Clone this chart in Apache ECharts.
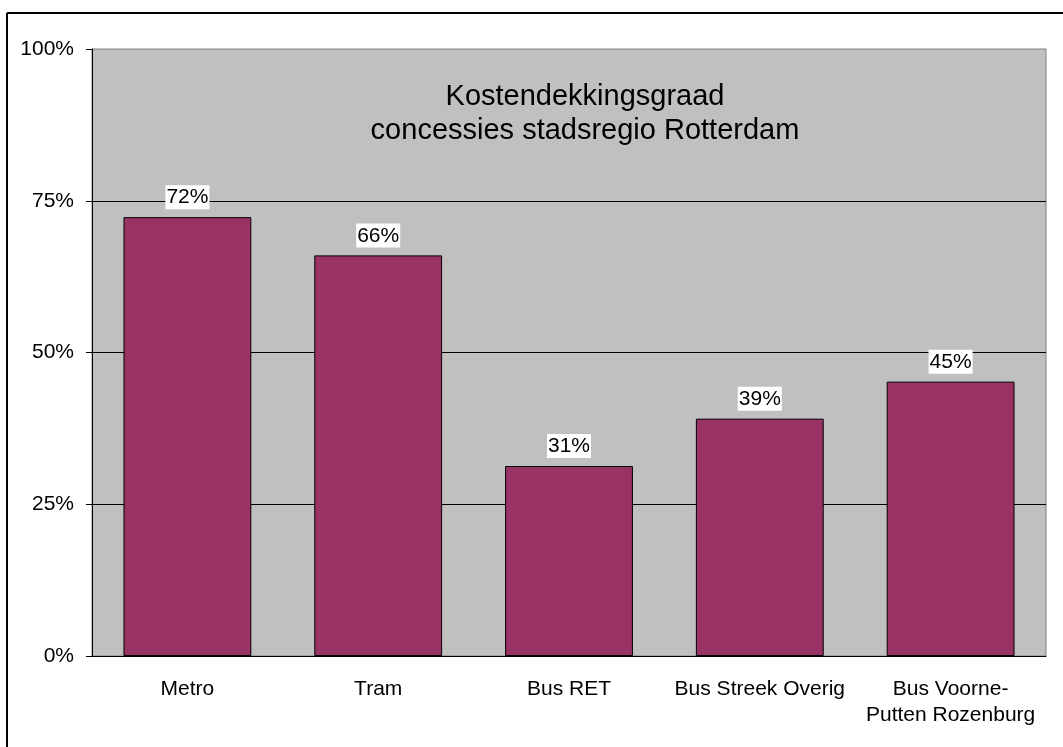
<!DOCTYPE html>
<html>
<head>
<meta charset="utf-8">
<script src="https://cdn.jsdelivr.net/npm/echarts@6/dist/echarts.min.js"></script>
<style>
  html, body { margin: 0; padding: 0; background: #fff; }
  #chart { width: 1063px; height: 747px; }
</style>
</head>
<body>
<div id="chart"></div>
<script>
const categories = ['Metro', 'Tram', 'Bus RET', 'Bus Streek Overig', 'Bus Voorne-\nPutten Rozenburg']
const coverage = [72.3, 66.0, 31.3, 39.1, 45.2]
const yTicks = { min: 0, max: 100, interval: 25 }

const FONT = '"Liberation Sans", Arial, sans-serif'

const chart = echarts.init(document.getElementById('chart'))

chart.setOption({
  animation: false,
  backgroundColor: '#fff',
  title: {
    text: 'Kostendekkingsgraad\nconcessies stadsregio Rotterdam',
    left: 580,
    top: 75,
    textAlign: 'center',
    textStyle: {
      fontFamily: FONT,
      fontSize: 29,
      fontWeight: 'normal',
      color: '#000',
      lineHeight: 34
    }
  },
  graphic: [
    { type: 'line', shape: { x1: 7, y1: 13, x2: 7, y2: 747 }, style: { stroke: '#000', lineWidth: 2 } },
    { type: 'line', shape: { x1: 7, y1: 13, x2: 1063, y2: 13 }, style: { stroke: '#000', lineWidth: 2 } }
  ],
  grid: {
    left: 92,
    right: 17,
    top: 49,
    bottom: 91,
    show: true,
    backgroundColor: '#C0C0C0',
    borderColor: '#808080',
    borderWidth: 1
  },
  xAxis: {
    type: 'category',
    data: categories,
    axisLine: { lineStyle: { color: '#000', width: 1 } },
    axisTick: { length: 7, lineStyle: { color: '#000' } },
    axisLabel: {
      fontFamily: FONT,
      fontSize: 21,
      color: '#000',
      margin: 20,
      lineHeight: 26,
      interval: 0
    }
  },
  yAxis: {
    type: 'value',
    min: yTicks.min,
    max: yTicks.max,
    interval: yTicks.interval,
    axisLine: { show: true, lineStyle: { color: '#000', width: 1 } },
    axisTick: { show: true, length: 6, lineStyle: { color: '#000' } },
    splitLine: { show: true, showMaxLine: false, lineStyle: { color: '#000', width: 1 } },
    axisLabel: {
      fontFamily: FONT,
      fontSize: 21,
      color: '#000',
      margin: 18,
      formatter: '{value}%'
    }
  },
  series: [
    {
      type: 'bar',
      data: coverage,
      barCategoryGap: '33%',
      itemStyle: { color: '#993366', borderColor: '#000', borderWidth: 1 },
      label: {
        show: true,
        position: 'top',
        distance: 8,
        fontFamily: FONT,
        fontSize: 21,
        color: '#000',
        backgroundColor: '#fff',
        padding: [2, 1, 1, 1],
        formatter: (p) => Math.round(p.value) + '%'
      }
    }
  ]
})
</script>
</body>
</html>
